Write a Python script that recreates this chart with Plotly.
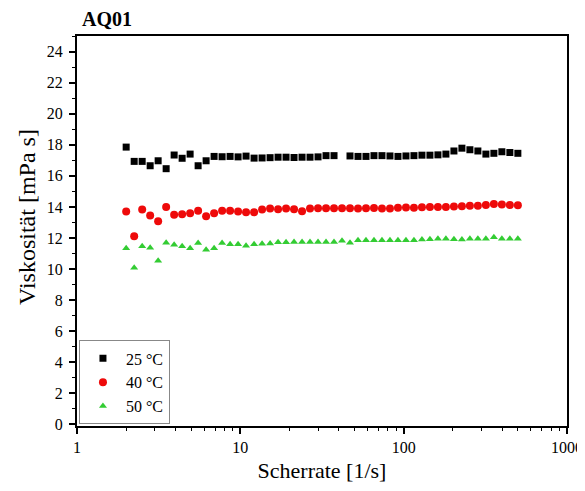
import plotly.graph_objects as go

# Shear rate [1/s]
shear_rate = [2.000, 2.239, 2.506, 2.805, 3.139, 3.514, 3.933, 4.402, 4.927, 5.515,
              6.173, 6.909, 7.733, 8.655, 9.688, 10.84, 12.14, 13.59, 15.21, 17.02,
              19.05, 21.32, 23.87, 26.71, 29.90, 33.47, 37.46, 41.93, 46.93, 52.53,
              58.79, 65.80, 73.65, 82.44, 92.27, 103.3, 115.6, 129.4, 144.8, 162.1,
              181.4, 203.1, 227.3, 254.4, 284.7, 318.7, 356.7, 399.3, 446.9, 500.2]

# Viscosity [mPa s]
visc_25 = [17.85, 16.93, 16.93, 16.65, 16.97, 16.46, 17.34, 17.13, 17.40, 16.65,
           16.97, 17.25, 17.23, 17.25, 17.22, 17.27, 17.14, 17.15, 17.17, 17.20,
           17.20, 17.18, 17.20, 17.20, 17.22, 17.30, 17.30, None, 17.28, 17.25,
           17.25, 17.30, 17.30, 17.28, 17.25, 17.28, 17.30, 17.33, 17.33, 17.35,
           17.40, 17.60, 17.78, 17.68, 17.60, 17.40, 17.45, 17.55, 17.50, 17.45]

visc_40 = [13.70, 12.11, 13.83, 13.44, 13.08, 14.00, 13.50, 13.53, 13.59, 13.76,
           13.40, 13.59, 13.76, 13.76, 13.70, 13.66, 13.66, 13.83, 13.90, 13.85,
           13.90, 13.85, 13.72, 13.90, 13.92, 13.92, 13.92, 13.92, 13.92, 13.90,
           13.92, 13.93, 13.90, 13.90, 13.95, 13.97, 13.95, 13.98, 14.00, 14.00,
           14.00, 14.02, 14.05, 14.08, 14.08, 14.12, 14.18, 14.15, 14.12, 14.10]

visc_50 = [11.34, 10.08, 11.47, 11.37, 10.53, 11.69, 11.56, 11.47, 11.34, 11.67,
           11.24, 11.34, 11.67, 11.60, 11.60, 11.50, 11.60, 11.63, 11.65, 11.72,
           11.72, 11.75, 11.75, 11.75, 11.75, 11.75, 11.75, 11.82, 11.70, 11.85,
           11.85, 11.85, 11.85, 11.85, 11.85, 11.85, 11.85, 11.90, 11.92, 11.95,
           11.95, 11.92, 11.90, 11.95, 11.95, 11.95, 12.05, 11.95, 11.95, 11.95]

series_names = ["25 °C", "40 °C", "50 °C"]

x_tickvals = [1, 10, 100, 1000]
x_ticktext = ["1", "10", "100", "1000"]
x_minor_vals = [m * d for d in (1, 10, 100) for m in range(2, 10)]

FONT = "Liberation Serif"

# the page body adds an 8px offset, so the figure is 8px smaller than the window
W, H = 577, 483

fig = go.Figure()
fig.add_trace(go.Scatter(x=shear_rate, y=visc_25, mode="markers", name=series_names[0],
                         marker=dict(symbol="square", size=7, color="#000000")))
fig.add_trace(go.Scatter(x=shear_rate, y=visc_40, mode="markers", name=series_names[1],
                         marker=dict(symbol="circle", size=8, color="#ee0a0a")))
fig.add_trace(go.Scatter(x=shear_rate, y=visc_50, mode="markers", name=series_names[2],
                         marker=dict(symbol="triangle-up", size=7, color="#33cc33")))

fig.update_layout(
    width=W, height=H,
    margin=dict(l=69, r=18, t=28, b=65, autoexpand=False),
    paper_bgcolor="white", plot_bgcolor="white",
    font=dict(family=FONT, color="black", size=16),
    title=dict(text="<b>AQ01</b>", x=74 / W, xref="container", xanchor="left",
               y=1 - 11 / H, yref="container", yanchor="middle",
               font=dict(family=FONT, size=20, color="black")),
    showlegend=True,
    legend=dict(x=0.004, y=0.004, xanchor="left", yanchor="bottom",
                bgcolor="white", bordercolor="#888888", borderwidth=1,
                font=dict(family=FONT, size=16, color="black"),
                tracegroupgap=0, itemwidth=36),
    annotations=[dict(text="Viskosität [mPa s]", textangle=-90,
                      xref="paper", yref="paper", x=-0.102, y=0.536,
                      xanchor="center", yanchor="middle", showarrow=False,
                      font=dict(family=FONT, size=24, color="black"))],
)

fig.update_xaxes(
    type="log", range=[0, 3], automargin=False,
    tickmode="array", tickvals=x_tickvals, ticktext=x_ticktext,
    ticks="outside", ticklen=6, tickwidth=1.5, tickcolor="black",
    minor=dict(tickmode="array", tickvals=x_minor_vals, ticks="outside",
               ticklen=3, tickwidth=1.2, tickcolor="black"),
    showline=True, linewidth=2, linecolor="black", mirror=True,
    showgrid=False, zeroline=False,
    tickfont=dict(family=FONT, size=16, color="black"),
    title=dict(text="Scherrate [1/s]", standoff=7,
               font=dict(family=FONT, size=22, color="black")),
)

fig.update_yaxes(
    range=[-0.1, 25], automargin=False,
    tickmode="linear", tick0=0, dtick=2,
    ticks="outside", ticklen=6, tickwidth=1.5, tickcolor="black",
    minor=dict(dtick=1, ticks="outside", ticklen=3, tickwidth=1.2, tickcolor="black"),
    showline=True, linewidth=2, linecolor="black", mirror=True,
    showgrid=False, zeroline=False,
    ticklabelstandoff=3,
    tickfont=dict(family=FONT, size=16, color="black"),
)

fig.write_html("out.html")
